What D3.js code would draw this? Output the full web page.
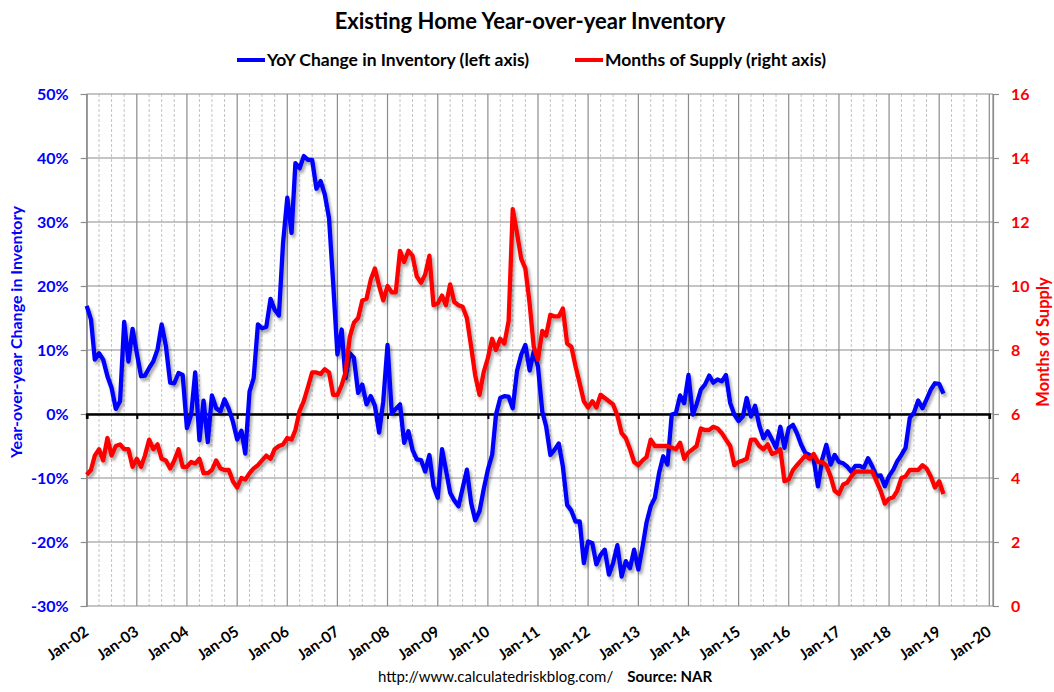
<!DOCTYPE html>
<html>
<head>
<meta charset="utf-8">
<script src="https://cdn.jsdelivr.net/npm/d3@7"></script>
<style>
  body { margin: 0; background: #fff; }
  text { font-family: Lato, "Open Sans", sans-serif; }
</style>
</head>
<body>
<div id="vis"></div>
<script>

// YoY change in inventory (%), monthly Jan-2002 .. Feb-2019
const yoyChange = [
    16.9, 14.8, 8.5, 9.5, 8.5, 5.9, 4.1, 0.8, 2.0, 14.4, 8.2, 13.3,
    9.5, 5.9, 6.0, 7.2, 8.2, 10.1, 14.0, 10.6, 4.9, 4.8, 6.4, 6.1,
    -2.2, -0.1, 6.5, -4.1, 2.1, -4.4, 2.9, 0.9, 0.4, 2.3, 0.8, -1.2,
    -4.0, -2.6, -6.2, 3.5, 5.6, 14.0, 13.4, 13.6, 18.0, 16.3, 15.4, 26.7,
    33.8, 28.3, 39.2, 38.4, 40.3, 39.7, 39.7, 35.2, 36.4, 34.3, 30.6, 20.5,
    9.3, 13.2, 5.6, 9.5, 8.8, 3.3, 4.6, 1.5, 2.8, 1.3, -2.9, 2.0,
    10.8, 0.1, 0.8, 1.5, -4.5, -2.7, -5.6, -7.1, -7.2, -9.0, -6.4, -11.3,
    -13.1, -5.5, -8.7, -12.3, -13.5, -14.4, -11.6, -8.7, -13.9, -16.6, -15.2, -11.8,
    -8.7, -6.4, -0.1, 2.5, 2.8, 2.7, 0.9, 6.7, 9.3, 10.8, 6.8, 9.8,
    7.4, 0.4, -1.9, -6.4, -5.6, -4.6, -8.2, -14.2, -15.1, -16.8, -16.8, -23.3,
    -19.9, -20.2, -23.5, -22.0, -21.2, -25.1, -23.3, -20.5, -25.4, -23.0, -24.1, -21.2,
    -24.3, -20.7, -17.0, -14.4, -13.1, -9.2, -6.6, -7.9, -0.1, 0.1, 2.9, 1.7,
    6.1, -0.1, 1.5, 3.8, 4.6, 6.0, 4.9, 5.4, 5.1, 6.1, 1.7, -0.1,
    -1.1, -0.4, 2.5, -0.4, 1.3, -1.8, -3.8, -2.7, -4.0, -5.3, -2.0, -5.3,
    -2.2, -1.7, -3.0, -4.8, -6.1, -6.4, -7.1, -11.3, -7.1, -4.8, -7.9, -6.4,
    -7.5, -7.7, -8.2, -9.0, -8.1, -8.1, -8.4, -6.9, -8.2, -9.7, -9.6, -11.3,
    -9.7, -8.7, -7.4, -6.4, -5.3, -0.6, 0.2, 2.1, 0.9, 2.3, 3.8, 4.8,
    4.7, 3.2
];

// Months of supply, monthly Jan-2002 .. Feb-2019
const monthsSupply = [
    4.1, 4.25, 4.7, 4.9, 4.55, 5.25, 4.7, 5.0, 5.05, 4.9, 4.9, 4.35,
    4.6, 4.35, 4.7, 5.2, 4.9, 5.05, 4.6, 4.55, 4.3, 4.55, 4.9, 4.35,
    4.35, 4.5, 4.45, 4.6, 4.15, 4.15, 4.25, 4.55, 4.3, 4.25, 4.25, 3.9,
    3.7, 4.0, 3.95, 4.15, 4.3, 4.4, 4.55, 4.7, 4.6, 4.9, 5.0, 5.05,
    5.25, 5.2, 5.5, 6.1, 6.4, 6.85, 7.3, 7.3, 7.25, 7.4, 7.3, 6.6,
    6.6, 6.9, 7.3, 8.4, 8.85, 9.0, 9.55, 9.6, 10.2, 10.55, 10.0, 9.55,
    10.0, 9.8, 9.8, 11.1, 10.75, 11.1, 10.95, 10.3, 10.1, 10.35, 10.95, 9.4,
    9.45, 9.7, 9.4, 10.05, 9.5, 9.4, 9.35, 9.0, 8.1, 7.2, 6.6, 7.3,
    7.75, 8.35, 8.0, 8.35, 8.2, 8.9, 12.4, 11.65, 10.85, 10.55, 9.45, 8.1,
    7.7, 8.6, 8.45, 9.1, 9.05, 9.05, 9.3, 8.2, 8.1, 7.5, 6.95, 6.4,
    6.2, 6.4, 6.2, 6.6, 6.5, 6.4, 6.3, 5.95, 5.4, 5.25, 4.9, 4.5,
    4.4, 4.55, 4.65, 5.2, 5.0, 5.0, 5.0, 5.0, 4.95, 4.9, 5.1, 4.6,
    4.8, 4.9, 5.0, 5.55, 5.5, 5.5, 5.6, 5.55, 5.4, 5.2, 5.0, 4.4,
    4.5, 4.55, 4.6, 5.2, 5.2, 5.0, 4.9, 5.05, 4.75, 4.8, 4.9, 3.9,
    3.95, 4.25, 4.4, 4.55, 4.7, 4.6, 4.75, 4.5, 4.5, 4.4, 4.05, 3.6,
    3.5, 3.8, 3.85, 4.05, 4.2, 4.2, 4.2, 4.2, 4.2, 3.9, 3.6, 3.2,
    3.35, 3.4, 3.6, 4.0, 4.05, 4.25, 4.25, 4.25, 4.4, 4.3, 4.05, 3.7,
    3.9, 3.5
];

const leftTicks = [-30, -20, -10, 0, 10, 20, 30, 40, 50];
const rightTicks = [0, 2, 4, 6, 8, 10, 12, 14, 16];
const yearLabels = ['Jan-02', 'Jan-03', 'Jan-04', 'Jan-05', 'Jan-06', 'Jan-07', 'Jan-08', 'Jan-09', 'Jan-10',
    'Jan-11', 'Jan-12', 'Jan-13', 'Jan-14', 'Jan-15', 'Jan-16', 'Jan-17', 'Jan-18', 'Jan-19', 'Jan-20'];

const months = d3.timeMonth.range(new Date(2002, 0, 1), new Date(2002, yoyChange.length, 1));
const years = d3.timeYear.range(new Date(2002, 0, 1), new Date(2020, 0, 2));
const quarters = d3.timeMonth.every(3).range(new Date(2002, 0, 1), new Date(2020, 0, 1))
    .filter(d => d.getMonth() !== 0);

const W = 1054, H = 692;
const plot = {left: 86.7, right: 989.3, top: 94, bottom: 606, edge: 993};

const blue = '#0000ff', red = '#ff0000', grid = '#8c8c8c';

let svg = d3.select('#vis')
    .append('svg')
    .attr('width', W)
    .attr('height', H);

// drop shadow like the excel lines
let filter = svg.append('defs').append('filter')
    .attr('id', 'shadow')
    .attr('x', '-5%').attr('y', '-5%')
    .attr('width', '110%').attr('height', '110%');
filter.append('feDropShadow')
    .attr('dx', 2).attr('dy', 3)
    .attr('stdDeviation', 1.6)
    .attr('flood-color', '#000')
    .attr('flood-opacity', 0.35);

// Scales
let x = d3.scaleTime()
    .domain([new Date(2002, 0, 1), new Date(2020, 0, 1)])
    .range([plot.left, plot.right]);

let yLeft = d3.scaleLinear()
    .domain([-30, 50])
    .range([plot.bottom, plot.top]);

let yRight = d3.scaleLinear()
    .domain([0, 16])
    .range([plot.bottom, plot.top]);

// Grid
let g = svg.append('g');

g.selectAll('line.q')
    .data(quarters)
    .enter().append('line')
    .attr('x1', d => x(d)).attr('x2', d => x(d))
    .attr('y1', plot.top).attr('y2', plot.bottom)
    .attr('stroke', '#c4c4c4')
    .attr('stroke-dasharray', '3,2')
    .attr('stroke-width', 1);

g.selectAll('line.yr')
    .data(years)
    .enter().append('line')
    .attr('x1', d => x(d)).attr('x2', d => x(d))
    .attr('y1', plot.top).attr('y2', plot.bottom)
    .attr('stroke', grid)
    .attr('stroke-width', 1.2);

g.selectAll('line.h')
    .data(leftTicks)
    .enter().append('line')
    .attr('x1', plot.left).attr('x2', plot.edge)
    .attr('y1', d => yLeft(d)).attr('y2', d => yLeft(d))
    .attr('stroke', grid)
    .attr('stroke-width', 1.2);

// right frame edge
g.append('line')
    .attr('x1', plot.edge).attr('x2', plot.edge)
    .attr('y1', plot.top).attr('y2', plot.bottom)
    .attr('stroke', grid).attr('stroke-width', 1.2);

// Left axis
let leftAxis = d3.axisLeft(yLeft)
    .tickValues(leftTicks)
    .tickSize(6)
    .tickPadding(12)
    .tickFormat(d => d + '%');

let la = svg.append('g')
    .attr('transform', 'translate(' + plot.left + ',0)')
    .call(leftAxis);
la.select('.domain').attr('stroke', grid).attr('stroke-width', 1.2);
la.selectAll('.tick line').attr('stroke', grid).attr('stroke-width', 1.2);
la.selectAll('.tick text')
    .attr('fill', blue)
    .attr('font-size', 16)
    .attr('font-weight', 'bold')
    .attr('font-family', 'Lato, sans-serif');

// Right axis
let rightAxis = d3.axisRight(yRight)
    .tickValues(rightTicks)
    .tickSize(6)
    .tickPadding(12);

let ra = svg.append('g')
    .attr('transform', 'translate(' + plot.edge + ',0)')
    .call(rightAxis);
ra.select('.domain').attr('stroke', grid).attr('stroke-width', 1.2);
ra.selectAll('.tick line').attr('stroke', grid).attr('stroke-width', 1.2);
ra.selectAll('.tick text')
    .attr('fill', red)
    .attr('font-size', 16)
    .attr('font-weight', 'bold')
    .attr('font-family', 'Lato, sans-serif');

// Zero line with year ticks
let xAxis = d3.axisBottom(x)
    .tickValues(years)
    .tickSize(5)
    .tickFormat('');

let xa = svg.append('g')
    .attr('transform', 'translate(0,' + yLeft(0) + ')')
    .call(xAxis);
xa.select('.domain').attr('stroke', '#000').attr('stroke-width', 2.6);
xa.selectAll('.tick line').attr('stroke', '#000').attr('stroke-width', 2);

// Year labels under the plot
svg.append('g')
    .selectAll('text')
    .data(years)
    .enter().append('text')
    .attr('transform', (d, i) => 'translate(' + (x(d) + 3) + ',' + 634 + ') rotate(-35)')
    .attr('text-anchor', 'end')
    .attr('font-size', 15.5)
    .attr('font-weight', 'bold')
    .attr('fill', '#000')
    .text((d, i) => yearLabels[i]);

// Lines
let blueLine = d3.line()
    .x((d, i) => x(months[i]))
    .y(d => yLeft(d));

let redLine = d3.line()
    .x((d, i) => x(months[i]))
    .y(d => yRight(d));

svg.append('path')
    .datum(yoyChange)
    .attr('d', blueLine)
    .attr('fill', 'none')
    .attr('stroke', blue)
    .attr('stroke-width', 4.3)
    .attr('stroke-linejoin', 'round')
    .attr('filter', 'url(#shadow)');

svg.append('path')
    .datum(monthsSupply)
    .attr('d', redLine)
    .attr('fill', 'none')
    .attr('stroke', red)
    .attr('stroke-width', 4.3)
    .attr('stroke-linejoin', 'round')
    .attr('filter', 'url(#shadow)');

// Title
svg.append('text')
    .attr('x', 530).attr('y', 29)
    .attr('text-anchor', 'middle')
    .attr('font-size', 22)
    .attr('font-weight', 'bold')
    .text('Existing Home Year-over-year Inventory');

// Legend
let legend = [
    {label: 'YoY Change in Inventory (left axis)', color: blue, x: 237},
    {label: 'Months of Supply (right axis)', color: red, x: 575}
];
let lg = svg.selectAll('g.legend')
    .data(legend)
    .enter().append('g')
    .attr('transform', d => 'translate(' + d.x + ',60)');
lg.append('line')
    .attr('x1', 0).attr('x2', 28)
    .attr('stroke', d => d.color)
    .attr('stroke-width', 4);
lg.append('text')
    .attr('x', 30).attr('y', 6)
    .attr('font-size', 17.5)
    .attr('font-weight', 'bold')
    .text(d => d.label);

// Axis titles
svg.append('text')
    .attr('transform', 'translate(22,332) rotate(-90)')
    .attr('text-anchor', 'middle')
    .attr('font-size', 16)
    .attr('font-weight', 'bold')
    .attr('fill', blue)
    .text('Year-over-year Change in Inventory');

svg.append('text')
    .attr('transform', 'translate(1049,342) rotate(-90)')
    .attr('text-anchor', 'middle')
    .attr('font-size', 16.5)
    .attr('font-weight', 'bold')
    .attr('fill', red)
    .text('Months of Supply');

// Source line
let src = svg.append('text')
    .attr('x', 545).attr('y', 682)
    .attr('text-anchor', 'middle')
    .attr('font-size', 15);
src.append('tspan').text('http://www.calculatedriskblog.com/');
src.append('tspan').attr('dx', 14).attr('font-weight', 'bold').text('Source: NAR');

</script>
</body>
</html>
